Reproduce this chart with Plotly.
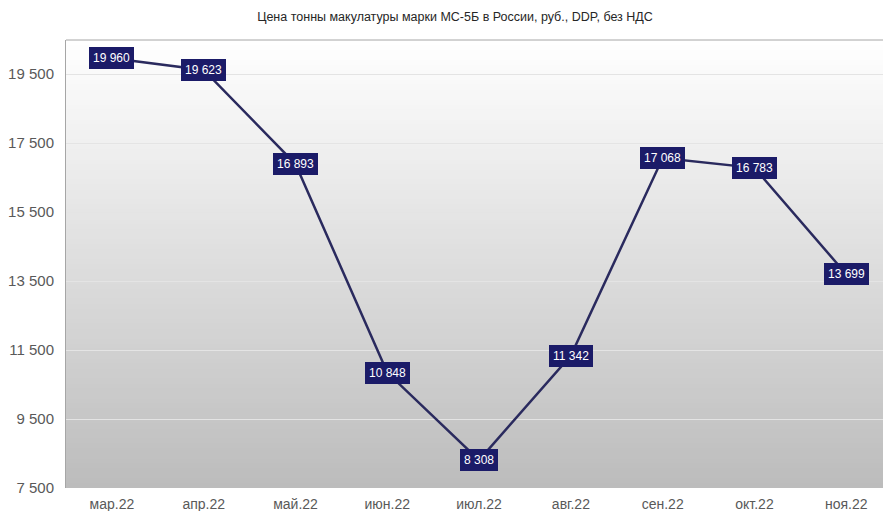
import plotly.graph_objects as go

months = ["мар.22", "апр.22", "май.22", "июн.22", "июл.22", "авг.22", "сен.22", "окт.22", "ноя.22"]
prices = [19960, 19623, 16893, 10848, 8308, 11342, 17068, 16783, 13699]
y_ticks = [7500, 9500, 11500, 13500, 15500, 17500, 19500]
title_text = "Цена тонны макулатуры марки МС-5Б в России, руб., DDP, без НДС"

def fmt(v):
    return f"{v:,}".replace(",", " ")

fig = go.Figure()
fig.add_trace(go.Scatter(
    x=list(range(len(months))), y=prices, mode="lines",
    line=dict(color="#2a2a5e", width=2.5), hoverinfo="skip", showlegend=False,
))

# labels in boxes
for i, v in enumerate(prices):
    fig.add_annotation(
        x=i, y=v, xref="x", yref="y", text=fmt(v), showarrow=False,
        font=dict(family="Liberation Sans, Arial", size=12, color="white"),
        bgcolor="#1b1b68", bordercolor="#1b1b68", borderwidth=1, borderpad=3,
    )

# background gradient (overlapping rects to avoid seams)
n = 90
top = (255, 255, 255)
bot = (188, 188, 188)
for k in range(n):
    t = k / (n - 1)
    c = tuple(int(round(top[j] + (bot[j] - top[j]) * t)) for j in range(3))
    fig.add_shape(type="rect", xref="paper", yref="paper",
                  x0=0, x1=1, y0=0, y1=1 - k / n,
                  fillcolor=f"rgb({c[0]},{c[1]},{c[2]})", line=dict(width=0),
                  layer="below")

fig.update_layout(
    width=883, height=511,
    margin=dict(l=66, r=0, t=40, b=23),
    paper_bgcolor="white", plot_bgcolor="rgba(0,0,0,0)",
    separators=", ",
    title=dict(text=title_text, x=455 / 883, xanchor="center", y=1 - 17 / 511, yanchor="middle",
               font=dict(family="Liberation Sans Narrow, Liberation Sans, Arial", size=12.5, color="#262626")),
    xaxis=dict(
        tickmode="array", tickvals=list(range(len(months))), ticktext=months,
        range=[-0.5, 8.4], showgrid=False, zeroline=False, showline=False,
        tickfont=dict(family="Liberation Sans, Arial", size=14, color="#595959"),
        ticks="", ticklen=0, ticklabelstandoff=6,
    ),
    yaxis=dict(
        tickmode="array", tickvals=y_ticks, ticktext=[fmt(v) for v in y_ticks],
        range=[7500, 20490], showgrid=True, gridcolor="#e4e4e4", gridwidth=1,
        zeroline=False, showline=True, linecolor="#a6a6a6", linewidth=1, mirror=False,
        tickfont=dict(family="Liberation Sans, Arial", size=15, color="#595959"),
        ticks="", ticklen=0, ticklabelstandoff=8,
    ),
)
# top border of plot area
fig.add_shape(type="line", xref="paper", yref="paper", x0=0, x1=1, y0=1, y1=1,
              line=dict(color="#a6a6a6", width=1))

fig.write_html("out.html", config={"displayModeBar": False},
               post_script="document.body.style.margin='0px';document.body.style.overflow='hidden';")
